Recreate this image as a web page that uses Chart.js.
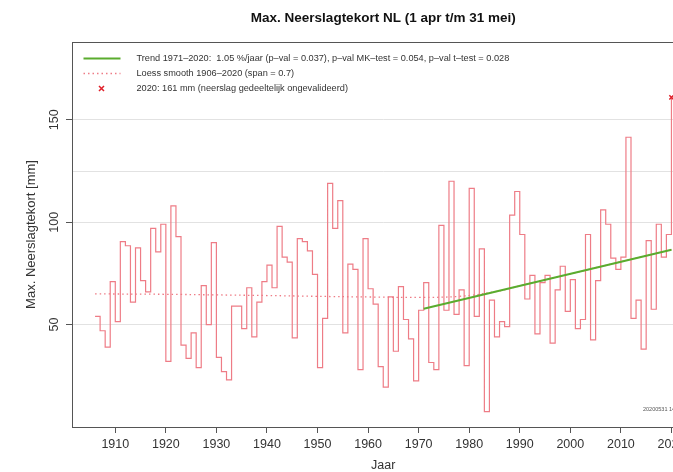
<!DOCTYPE html>
<html>
<head>
<meta charset="utf-8">
<script src="https://cdn.jsdelivr.net/npm/chart.js@4.4.0/dist/chart.umd.min.js"></script>
<style>
  html, body { margin: 0; padding: 0; background: #fff; overflow: hidden; }
  #wrap { width: 700px; height: 472px; }
</style>
</head>
<body>
<div id="wrap"><canvas id="chart" width="700" height="472"></canvas></div>
<script>
// yearly values (mm)
const years = [1906, 1907, 1908, 1909, 1910, 1911, 1912, 1913, 1914, 1915, 1916, 1917, 1918, 1919, 1920,
  1921, 1922, 1923, 1924, 1925, 1926, 1927, 1928, 1929, 1930, 1931, 1932, 1933, 1934, 1935, 1936, 1937, 1938, 1939, 1940,
  1941, 1942, 1943, 1944, 1945, 1946, 1947, 1948, 1949, 1950, 1951, 1952, 1953, 1954, 1955, 1956, 1957, 1958, 1959, 1960,
  1961, 1962, 1963, 1964, 1965, 1966, 1967, 1968, 1969, 1970, 1971, 1972, 1973, 1974, 1975, 1976, 1977, 1978, 1979, 1980,
  1981, 1982, 1983, 1984, 1985, 1986, 1987, 1988, 1989, 1990, 1991, 1992, 1993, 1994, 1995, 1996, 1997, 1998, 1999, 2000,
  2001, 2002, 2003, 2004, 2005, 2006, 2007, 2008, 2009, 2010, 2011, 2012, 2013, 2014, 2015, 2016, 2017, 2018, 2019, 2020];
const deficit = [54, 47, 39, 71, 51.5, 90.5, 88.5, 61, 87.5, 71.5, 66, 97, 85.5, 99, 32,
  108, 93, 40, 33.5, 46, 29, 69, 50, 90, 34, 27, 23, 59, 59, 48, 68, 44, 61, 71, 79,
  68, 98, 83, 80.5, 43.5, 92, 90.5, 86, 74.5, 29, 53, 119, 97, 110.5, 46, 79.5, 77, 28, 92, 67.5,
  60, 29.5, 19.5, 63.5, 37, 68.5, 52.5, 43, 22.5, 57, 70.5, 31.5, 28, 98.5, 57, 120, 55, 67, 30, 116.5,
  54, 87, 7.5, 62, 44, 51.5, 49, 103.5, 115, 94, 62.5, 74, 45.5, 70.5, 74, 41, 67, 78.5, 56.5, 72,
  48, 52.5, 94, 42.5, 71.5, 106, 99, 82.5, 77, 83, 141.5, 53, 62, 38, 91, 57.5, 99, 83, 94, 161];

const loessYears = [1906, 1920, 1930, 1940, 1950, 1960, 1970, 1978, 1985, 1990, 2000, 2010, 2020];
const loessValues = [65, 64.8, 64.5, 64.2, 63.8, 63.5, 63.3, 63.8, 66, 68.9, 74.8, 80.7, 86.6];

const trendYears = [1971, 2020];
const trendValues = [57.7, 86.6];

const lastYear = [2020];
const lastValue = [161];

const xTicks = [1910, 1920, 1930, 1940, 1950, 1960, 1970, 1980, 1990, 2000, 2010, 2020];
const yGrid = [50, 100, 125, 150];
const yLabels = [50, 100, 150];

const legendTexts = [
  'Trend 1971\u20132020:  1.05 %/jaar (p\u2013val = 0.037), p\u2013val MK\u2013test = 0.054, p\u2013val t\u2013test = 0.028',
  'Loess smooth 1906\u20132020 (span = 0.7)',
  '2020: 161 mm (neerslag gedeeltelijk ongevalideerd)'
];

function pts(xs, ys) {
  return xs.map((x, i) => ({ x: x, y: ys[i] }));
}

Chart.defaults.font.family = '"Liberation Sans", Arial, sans-serif';
Chart.defaults.color = '#333';

const stepColor = '#ee7c86';
const trendColor = '#5aac2e';

// box round the plot, legend and the little date stamp
const extras = {
  id: 'extras',
  afterDraw(chart) {
    const ctx = chart.ctx;
    const a = chart.chartArea;
    ctx.save();
    ctx.strokeStyle = '#555';
    ctx.lineWidth = 1;
    ctx.strokeRect(Math.round(a.left) + 0.5, Math.round(a.top) + 0.5,
      Math.round(a.right - a.left), Math.round(a.bottom - a.top));

    // legend (no frame)
    const lx = Math.round(a.left) + 0.5, ly = Math.round(a.top) + 0.5;
    const rows = [ly + 16, ly + 31, ly + 46];
    ctx.strokeStyle = trendColor;
    ctx.lineWidth = 2;
    ctx.beginPath(); ctx.moveTo(lx + 11, rows[0]); ctx.lineTo(lx + 48, rows[0]); ctx.stroke();
    ctx.strokeStyle = stepColor;
    ctx.lineWidth = 1.3;
    ctx.setLineDash([1.5, 3]);
    ctx.beginPath(); ctx.moveTo(lx + 11, rows[1]); ctx.lineTo(lx + 48, rows[1]); ctx.stroke();
    ctx.setLineDash([]);
    ctx.strokeStyle = '#e0202a';
    ctx.lineWidth = 1.5;
    const cx = lx + 29, cy = rows[2];
    ctx.beginPath();
    ctx.moveTo(cx - 2.5, cy - 2.5); ctx.lineTo(cx + 2.5, cy + 2.5);
    ctx.moveTo(cx + 2.5, cy - 2.5); ctx.lineTo(cx - 2.5, cy + 2.5);
    ctx.stroke();
    ctx.fillStyle = '#333';
    ctx.font = '9.2px "Liberation Sans", Arial, sans-serif';
    ctx.textBaseline = 'middle';
    ctx.textAlign = 'left';
    legendTexts.forEach((t, i) => ctx.fillText(t, lx + 64, rows[i]));

    ctx.font = '5.5px "Liberation Sans", Arial, sans-serif';
    ctx.fillStyle = '#555';
    ctx.fillText('20200531 14', 643, 409);
    ctx.restore();
  }
};

new Chart(document.getElementById('chart'), {
  type: 'line',
  data: {
    datasets: [
      {
        label: 'neerslagtekort',
        data: pts(years, deficit),
        stepped: 'before',
        borderColor: stepColor,
        borderWidth: 1.2,
        pointRadius: 0,
        fill: false,
        order: 3
      },
      {
        label: 'loess',
        data: pts(loessYears, loessValues),
        borderColor: stepColor,
        borderWidth: 1.3,
        borderDash: [1.5, 3],
        tension: 0.4,
        pointRadius: 0,
        fill: false,
        order: 2
      },
      {
        label: 'trend',
        data: pts(trendYears, trendValues),
        borderColor: trendColor,
        borderWidth: 2,
        pointRadius: 0,
        fill: false,
        order: 1
      },
      {
        label: '2020',
        data: pts(lastYear, lastValue),
        showLine: false,
        pointStyle: 'crossRot',
        pointRadius: 3,
        pointBorderWidth: 1.5,
        pointBorderColor: '#e0202a',
        order: 0
      }
    ]
  },
  options: {
    responsive: false,
    animation: false,
    layout: { padding: { top: 0, left: 0, right: 4, bottom: 0 } },
    plugins: {
      legend: { display: false },
      tooltip: { enabled: false },
      title: {
        display: true,
        fullSize: false,
        text: 'Max. Neerslagtekort NL (1 apr t/m 31 mei)',
        color: '#111',
        font: { size: 13.5, weight: 'bold', lineHeight: 1.2 },
        padding: { top: 10, bottom: 15.8 }
      }
    },
    scales: {
      x: {
        type: 'linear',
        min: 1901.44,
        max: 2024.56,
        afterFit: (s) => { s.height = 45; },
        afterBuildTicks: (s) => { s.ticks = xTicks.map(v => ({ value: v })); },
        grid: { drawOnChartArea: false, tickLength: 6, tickColor: '#555', color: '#555' },
        border: { display: false },
        ticks: { font: { size: 12.5 }, padding: 4, maxRotation: 0, callback: (v) => String(v) },
        title: { display: true, text: 'Jaar', font: { size: 12.5, lineHeight: 1 }, padding: { top: 0, bottom: 0 } }
      },
      y: {
        min: 0,
        max: 188,
        afterFit: (s) => { s.width = 72; },
        afterBuildTicks: (s) => { s.ticks = yGrid.map(v => ({ value: v })); },
        grid: {
          color: '#e2e2e2',
          tickLength: 6,
          tickColor: (c) => yLabels.includes(c.tick.value) ? '#555' : 'rgba(0,0,0,0)'
        },
        border: { display: false },
        ticks: {
          font: { size: 12.5 },
          padding: 1,
          minRotation: 90,
          maxRotation: 90,
          crossAlign: 'center',
          callback: (v) => yLabels.includes(v) ? String(v) : ''
        },
        title: { display: true, text: 'Max. Neerslagtekort [mm]', font: { size: 13, lineHeight: 1 }, padding: { top: 25 } }
      }
    }
  },
  plugins: [extras]
});
</script>
</body>
</html>
